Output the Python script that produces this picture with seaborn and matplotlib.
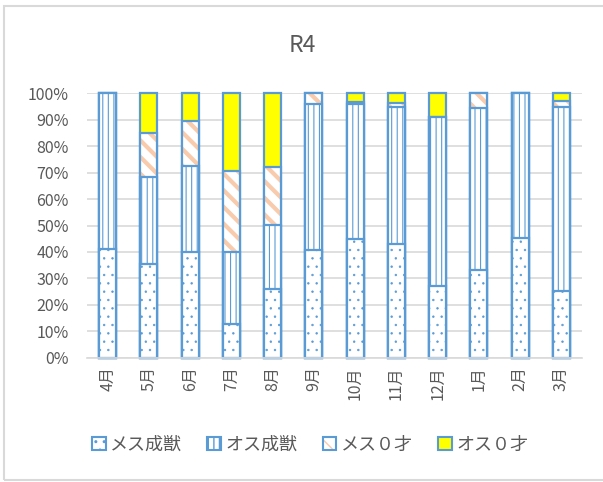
import matplotlib
matplotlib.use("Agg")
import matplotlib.pyplot as plt
import seaborn as sns
from matplotlib.patches import Patch, Rectangle
from matplotlib.ticker import FuncFormatter, MultipleLocator

# Monthly composition (%) for R4
months = ['4月', '5月', '6月', '7月', '8月', '9月', '10月', '11月', '12月', '1月', '2月', '3月']
female_adult = [41.0, 35.4, 40.0, 12.7, 26.0, 40.7, 44.8, 43.0, 27.0, 33.2, 45.4, 25.3]
male_adult = [59.0, 32.8, 32.4, 27.1, 24.3, 55.1, 51.0, 51.7, 63.9, 61.1, 54.6, 69.7]
female_0 = [0.0, 16.9, 17.0, 30.9, 22.0, 4.2, 0.9, 1.5, 0.0, 5.7, 0.0, 2.2]
male_0 = [0.0, 14.9, 10.6, 29.3, 27.7, 0.0, 3.3, 3.8, 9.1, 0.0, 0.0, 2.8]
series_names = ['メス成獣', 'オス成獣', 'メス０才', 'オス０才']

BLUE = '#5B9BD5'
PEACH = '#F8CBAD'
YELLOW = '#FFFF00'
GRID = '#D9D9D9'
TEXT = '#595959'

sns.set_theme(style='white')
plt.rcParams['font.family'] = ['Noto Sans CJK JP', 'DejaVu Sans']

# cumulative tops of each stacked segment
lvl1 = list(female_adult)
lvl2 = [a + b for a, b in zip(lvl1, male_adult)]
lvl3 = [a + b for a, b in zip(lvl2, female_0)]
lvl4 = [a + b for a, b in zip(lvl3, male_0)]

W, H = 603, 482
fig = plt.figure(figsize=(W / 100, H / 100), dpi=100)
fig.patch.set_facecolor('white')
ax = fig.add_axes([87 / W, 1 - 357.7 / H, 495 / W, 264.4 / H])

BAR_W = 0.41


def layer(tops, face, edge, lw, hatch=None, hatch_lw=1.0, fill=True):
    n0 = len(ax.patches)
    sns.barplot(x=months, y=tops, order=months, ax=ax, width=BAR_W,
                color=face if fill else edge, saturation=1, fill=fill,
                errorbar=None, linewidth=lw)
    for p in ax.patches[n0:]:
        if fill:
            p.set_facecolor(face)
        p.set_edgecolor(edge)
        p.set_linewidth(lw)
        p.set_clip_on(False)
        if hatch:
            p.set_hatch(hatch)
            if hasattr(p, 'set_hatch_linewidth'):
                p.set_hatch_linewidth(hatch_lw)


# top segment first; each lower stack covers the one before it
layer(lvl4, YELLOW, BLUE, 1.6)
layer(lvl3, 'white', PEACH, 0, hatch='\\\\', hatch_lw=3.0)
layer(lvl3, 'none', BLUE, 1.6, fill=False)
layer(lvl2, 'white', BLUE, 1.6, hatch='|||', hatch_lw=0.8)
layer(lvl1, 'white', BLUE, 1.6, hatch='..', hatch_lw=0.5)

ax.set_ylim(0, 100)
ax.set_xlim(-0.5, len(months) - 0.5)
ax.yaxis.set_major_locator(MultipleLocator(10))
ax.yaxis.set_major_formatter(FuncFormatter(lambda v, _: f'{v:.0f}%'))
ax.grid(axis='y', color=GRID, linewidth=1.2)
ax.set_axisbelow(True)
for s in ax.spines.values():
    s.set_visible(False)
ax.spines['bottom'].set_visible(True)
ax.spines['bottom'].set_color(GRID)
ax.spines['bottom'].set_linewidth(1.2)
ax.set_xlabel('')
ax.set_ylabel('')
ax.tick_params(axis='y', length=0, pad=13, labelsize=11.5, labelcolor=TEXT)
ax.tick_params(axis='x', length=0, pad=6, labelsize=11.5, labelcolor=TEXT)
for t in ax.get_xticklabels():
    t.set_rotation(90)
    t.set_va('top')
    t.set_ha('center')

fig.text(302 / W, 1 - 46 / H, 'R4', ha='center', va='center',
         fontsize=16.5, color=TEXT)

handles = [
    Patch(facecolor='white', edgecolor=BLUE, hatch='..', linewidth=1.5),
    Patch(facecolor='white', edgecolor=BLUE, hatch='|||', linewidth=1.5),
    (Patch(facecolor='white', edgecolor=PEACH, hatch='\\\\', linewidth=0),
     Patch(facecolor='none', edgecolor=BLUE, linewidth=1.5)),
    Patch(facecolor=YELLOW, edgecolor=BLUE, linewidth=1.5),
]
leg = fig.legend(handles, series_names, loc='center',
                 bbox_to_anchor=(310 / W, 1 - 445 / H), ncol=4, frameon=False,
                 fontsize=13, handlelength=0.75, handleheight=0.75,
                 handletextpad=0.25, columnspacing=1.4)
for t in leg.get_texts():
    t.set_color(TEXT)

# chart area border
fig.patches.append(Rectangle((4 / W, 1 - 480 / H), 1.2, (480 - 6) / H,
                             transform=fig.transFigure, fill=False,
                             edgecolor=GRID, linewidth=1.5))

fig.savefig('out.png', dpi=100, facecolor='white')
